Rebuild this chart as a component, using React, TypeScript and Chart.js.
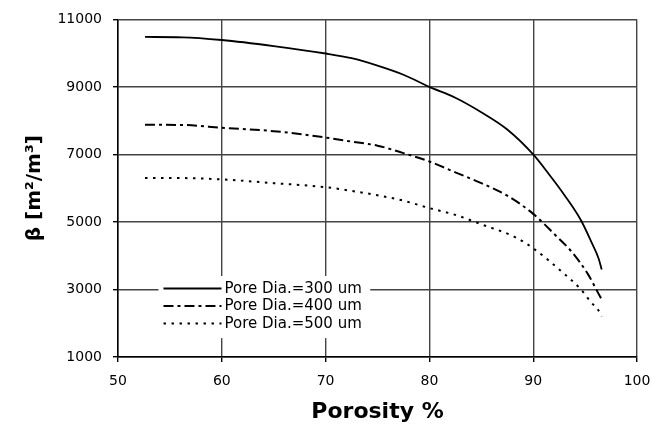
import React, { useEffect, useRef } from "react";
import { Chart, registerables } from "chart.js";

Chart.register(...registerables);

const seriesLabels = ["Pore Dia.=300 um", "Pore Dia.=400 um", "Pore Dia.=500 um"];

const porosity300 = [52.6, 56.2, 60, 65, 70, 72.5, 75, 77.5, 80, 82.5, 85, 87.5, 90, 91.5, 93, 94.6, 95.6, 96.3, 96.6];
const beta300 = [10480, 10470, 10390, 10210, 9990, 9850, 9630, 9360, 9000, 8680, 8250, 7740, 7000, 6420, 5800, 5050, 4410, 3920, 3590];

const porosity400 = [52.6, 56.5, 60, 65, 70, 72.5, 75, 77.5, 80, 82.5, 85, 87.5, 90, 92.1, 93.7, 95.3, 96.25, 96.6];
const beta400 = [7880, 7870, 7790, 7690, 7500, 7380, 7260, 7040, 6790, 6470, 6150, 5780, 5240, 4620, 4120, 3440, 2900, 2700];

const porosity500 = [52.6, 56, 60, 65, 70, 72.5, 75, 77.5, 80, 82.5, 85, 88.2, 90, 92.7, 94.6, 95.6, 96.25, 96.6];
const beta500 = [6300, 6300, 6260, 6150, 6030, 5920, 5790, 5630, 5410, 5210, 4930, 4560, 4220, 3540, 3000, 2610, 2400, 2200];

const xTitle = "Porosity %";
const yTitle = "β [m²/m³]";

const toPoints = (xs: number[], ys: number[]) => xs.map((x, i) => ({ x, y: ys[i] }));

const FONT = "'DejaVu Sans', 'Liberation Sans', Arial, sans-serif";

const legendPlugin = {
  id: "insideLegend",
  afterDatasetsDraw(chart: any) {
    const ctx = chart.ctx;
    const xs = chart.scales.x;
    const ys = chart.scales.y;
    ctx.save();
    const left = xs.getPixelForValue(53.9);
    const right = xs.getPixelForValue(74.3);
    const top = ys.getPixelForValue(3400);
    const bottom = ys.getPixelForValue(1560);
    ctx.fillStyle = "#ffffff";
    ctx.fillRect(left, top, right - left, bottom - top);
    const rowH = 17.5;
    const y0 = ys.getPixelForValue(3000) - 1;
    const sx0 = left + 5;
    const sx1 = sx0 + 58;
    chart.data.datasets.forEach((ds: any, i: number) => {
      const y = y0 + i * rowH;
      ctx.beginPath();
      ctx.setLineDash(ds.borderDash || []);
      ctx.lineWidth = ds.borderWidth;
      ctx.strokeStyle = ds.borderColor;
      ctx.moveTo(sx0, y);
      ctx.lineTo(sx1, y);
      ctx.stroke();
      ctx.setLineDash([]);
      ctx.fillStyle = "#000";
      ctx.font = `15px ${FONT}`;
      ctx.textBaseline = "middle";
      ctx.textAlign = "left";
      ctx.fillText(ds.label, sx1 + 3, y + 0.5);
    });
    ctx.restore();
  },
};

export default function App() {
  const ref = useRef<HTMLCanvasElement | null>(null);
  useEffect(() => {
    document.body.style.margin = "0";
    const canvas = ref.current!;
    const chart = new Chart(canvas, {
      type: "line",
      data: {
        datasets: [
          {
            label: seriesLabels[0],
            data: toPoints(porosity300, beta300),
            borderColor: "#000",
            borderWidth: 1.8,
            pointRadius: 0,
            cubicInterpolationMode: "monotone",
            fill: false,
          },
          {
            label: seriesLabels[1],
            data: toPoints(porosity400, beta400),
            borderColor: "#000",
            borderWidth: 2,
            borderDash: [10, 4, 3, 4],
            pointRadius: 0,
            cubicInterpolationMode: "monotone",
            fill: false,
          },
          {
            label: seriesLabels[2],
            data: toPoints(porosity500, beta500),
            borderColor: "#000",
            borderWidth: 2,
            borderDash: [2.5, 5.5],
            pointRadius: 0,
            cubicInterpolationMode: "monotone",
            fill: false,
          },
        ],
      },
      options: {
        animation: false,
        responsive: false,
        maintainAspectRatio: false,
        layout: { padding: { left: 0, top: 14, right: 26, bottom: 0 } },
        plugins: {
          legend: { display: false },
          tooltip: { enabled: false },
        },
        scales: {
          x: {
            type: "linear",
            min: 50,
            max: 100,
            afterFit: (s: any) => {
              s.height = 78;
            },
            ticks: {
              stepSize: 10,
              color: "#000",
              padding: 11,
              font: { family: FONT, size: 14 },
              callback: (v: any) => String(v),
            },
            grid: { color: "#444", lineWidth: 1.4, tickLength: 5, tickColor: "#000" },
            border: { color: "#000", width: 1.5 },
            title: {
              display: true,
              text: xTitle,
              color: "#000",
              font: { family: FONT, size: 22, weight: "bold" },
              padding: { top: 0, bottom: 10 },
            },
          },
          y: {
            type: "linear",
            min: 1000,
            max: 11000,
            afterFit: (s: any) => {
              s.width = 118;
            },
            ticks: {
              stepSize: 2000,
              color: "#000",
              padding: 11,
              font: { family: FONT, size: 14 },
              callback: (v: any) => String(v),
            },
            grid: { color: "#444", lineWidth: 1.4, tickLength: 5, tickColor: "#000" },
            border: { color: "#000", width: 1.5 },
            title: {
              display: true,
              text: yTitle,
              color: "#000",
              font: { family: FONT, size: 20, weight: "bold" },
              padding: { top: 23, bottom: 0 },
            },
          },
        },
      },
      plugins: [legendPlugin],
    } as any);
    return () => chart.destroy();
  }, []);
  return (
    <div style={{ position: "absolute", left: 0, top: 0, width: 663, height: 435, background: "#fff" }}>
      <canvas ref={ref} width={663} height={435} style={{ display: "block", width: 663, height: 435 }} />
    </div>
  );
}
